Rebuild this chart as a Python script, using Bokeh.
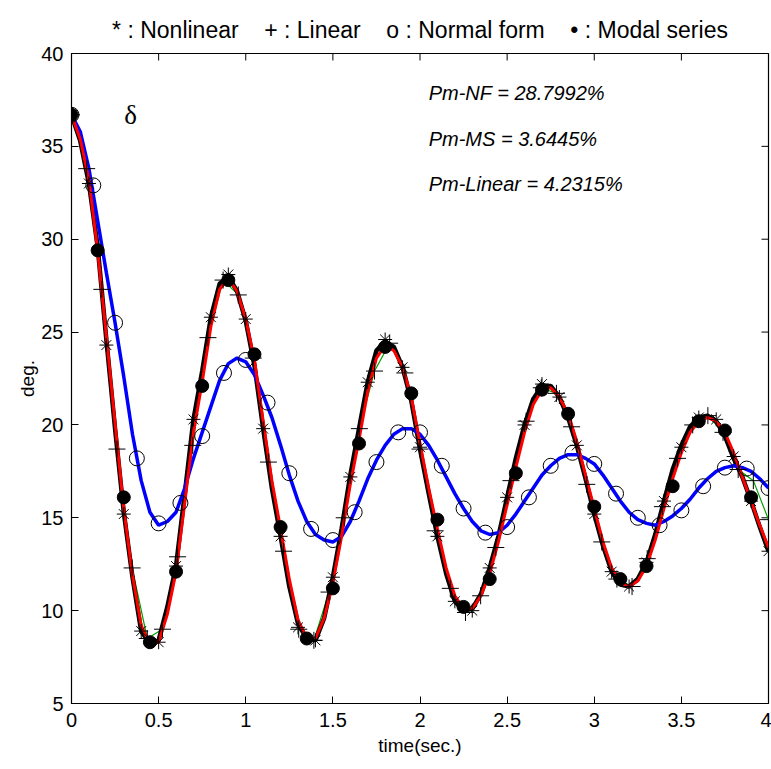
import numpy as np
from bokeh.plotting import figure
from bokeh.embed import file_html
from bokeh.resources import INLINE
from bokeh.models import FixedTicker, PrintfTickFormatter, Range1d
from bokeh.core.properties import value

# ---- data ----
t_line = np.round(np.arange(0, 81) * 0.05, 2)

nonlinear_line = [36.7, 35.3, 33.0, 29.6, 24.6, 19.8, 15.3, 11.8, 8.9, 8.2,
                  8.4, 10.2, 12.4, 16.3, 20.3, 22.9, 25.8, 27.6, 28.0, 27.2,
                  25.6, 23.2, 19.8, 16.6, 14.0, 11.3, 9.3, 8.5, 8.4, 9.6,
                  11.8, 14.4, 17.3, 19.8, 22.3, 24.0, 24.5, 24.2, 23.1, 21.3,
                  18.7, 16.3, 14.0, 12.0, 10.5, 10.0, 10.1, 10.9, 12.3, 14.0,
                  16.1, 18.2, 20.0, 21.4, 22.1, 22.1, 21.5, 20.4, 18.9, 17.1,
                  15.2, 13.5, 12.1, 11.4, 11.3, 11.7, 12.6, 14.1, 15.9, 17.6,
                  18.9, 19.9, 20.4, 20.5, 20.2, 19.4, 18.2, 17.2, 15.9, 14.5,
                  13.2]

modal_line = [36.7, 35.4, 33.2, 29.4, 24.8, 20.1, 15.5, 11.9, 9.2, 8.2,
              8.3, 9.8, 12.1, 15.8, 19.6, 22.3, 25.3, 27.3, 27.9, 27.2,
              25.7, 23.5, 20.2, 17.0, 14.4, 11.7, 9.5, 8.5, 8.5, 9.6,
              11.5, 14.0, 16.8, 19.2, 21.8, 23.6, 24.3, 24.0, 23.1, 21.5,
              19.0, 16.6, 14.4, 12.3, 10.8, 10.1, 10.1, 10.8, 12.0, 13.7,
              15.7, 17.7, 19.6, 21.1, 21.9, 22.0, 21.5, 20.6, 19.1, 17.3,
              15.5, 13.7, 12.3, 11.5, 11.3, 11.6, 12.4, 13.8, 15.5, 17.1,
              18.5, 19.6, 20.2, 20.4, 20.2, 19.6, 18.5, 17.2, 15.9, 14.6,
              13.4]

normal_form_line = [36.7, 35.8, 33.8, 31.0, 28.2, 25.5, 22.6, 19.5, 17.0, 15.3,
                    14.6, 14.8, 15.3, 16.6, 18.2, 19.6, 21.0, 22.4, 23.3, 23.6,
                    23.4, 22.7, 21.6, 20.4, 18.9, 17.3, 15.9, 14.8, 14.1, 13.8,
                    13.7, 14.0, 14.8, 15.9, 17.1, 18.1, 18.9, 19.5, 19.8, 19.8,
                    19.5, 18.9, 18.1, 17.2, 16.3, 15.5, 14.8, 14.3, 14.1, 14.2,
                    14.6, 15.2, 15.9, 16.6, 17.3, 17.8, 18.2, 18.4, 18.4, 18.2,
                    17.9, 17.3, 16.6, 15.9, 15.3, 14.9, 14.7, 14.6, 14.8, 15.1,
                    15.5, 16.0, 16.6, 17.1, 17.5, 17.7, 17.8, 17.7, 17.5, 17.1,
                    16.6]

# '*' markers (nonlinear)
t_nl = np.round(np.arange(0, 41) * 0.1, 3)
y_nl = [36.7, 33.0, 24.3, 15.2, 8.9, 8.3, 12.4, 20.3, 25.8, 28.1,
        25.7, 19.8, 14.0, 9.1, 8.4, 11.8, 17.2, 22.3, 24.6, 23.1,
        18.8, 14.0, 10.5, 10.0, 12.3, 16.1, 20.0, 22.2, 21.5, 18.9,
        15.2, 12.1, 11.3, 12.6, 15.9, 18.8, 20.4, 20.3, 18.3, 15.9,
        13.2]

# '+' markers (linear)
t_lin = np.round(np.arange(0, 47) * 4.0 / 46, 3)
y_lin = [36.7, 33.8, 27.3, 18.7, 12.3, 8.5, 9.0, 12.9, 18.9, 24.7,
         27.8, 27.0, 23.6, 18.0, 13.2, 9.0, 8.4, 11.0, 15.0, 19.8,
         22.9, 24.4, 22.8, 18.7, 14.3, 11.2, 9.9, 10.8, 13.4, 17.0,
         20.2, 22.0, 21.7, 19.9, 16.8, 13.7, 11.7, 11.3, 12.8, 15.6,
         18.2, 20.0, 20.5, 19.6, 17.6, 17.0, 14.9]

# 'o' markers (normal form)
t_nf = np.round(np.arange(0, 33) * 0.125, 3)
y_nf = [36.7, 32.9, 25.5, 18.2, 14.7, 15.8, 19.4, 22.8, 23.5, 21.2,
        17.4, 14.4, 13.8, 15.3, 18.0, 19.6, 19.6, 17.8, 15.5, 14.2,
        14.5, 16.1, 17.8, 18.5, 17.9, 16.3, 15.0, 14.6, 15.4, 16.7,
        17.7, 17.65, 16.6]

# filled dots (modal series)
t_ms = np.round(np.arange(0, 27) * 0.15, 3)
y_ms = [36.7, 29.4, 16.1, 8.3, 12.1, 22.1, 27.8, 23.8, 14.5, 8.5,
        11.2, 19.0, 24.2, 21.7, 14.9, 10.2, 11.7, 17.4, 21.9, 20.6,
        15.6, 11.7, 12.4, 16.7, 20.2, 19.7, 16.1]

x_ticks = [0, 0.5, 1, 1.5, 2, 2.5, 3, 3.5, 4]
y_ticks = [5, 10, 15, 20, 25, 30, 35, 40]

GAP = "\u00a0" * 4
legend_title = ("* : Nonlinear" + GAP + "+ : Linear" + GAP + "o : Normal form"
                + GAP + "\u2022 : Modal series")
pm_texts = ["Pm-NF = 28.7992%", "Pm-MS = 3.6445%", "Pm-Linear = 4.2315%"]

FONT = "Liberation Sans"
X0, X1, Y0, Y1 = 0, 4, 5, 40
FRAME_W, FRAME_H = 697, 650
TICK_PX = 7

p = figure(width=771, height=769, output_backend="svg", toolbar_location=None,
           x_range=Range1d(X0, X1), y_range=Range1d(Y0, Y1),
           min_border_left=71, min_border_right=3, min_border_top=53,
           min_border_bottom=66, title=legend_title)
p.title.align = "center"
p.title.text_font = FONT
p.title.text_font_size = "23px"
p.title.text_font_style = "normal"
p.title.text_color = "black"
p.title.standoff = 22

p.xgrid.visible = False
p.ygrid.visible = False
p.outline_line_color = "black"
p.outline_line_width = 1.2
p.background_fill_color = "white"
p.border_fill_color = "white"

for ax, ticks in ((p.xaxis[0], x_ticks), (p.yaxis[0], y_ticks)):
    ax.ticker = FixedTicker(ticks=ticks)
    ax.formatter = PrintfTickFormatter(format="%g")
    ax.major_tick_in = TICK_PX
    ax.major_tick_out = 0
    ax.minor_tick_line_color = None
    ax.axis_line_color = "black"
    ax.major_tick_line_color = "black"
    ax.major_label_text_font = FONT
    ax.major_label_text_font_size = "20px"
    ax.major_label_text_color = "black"
    ax.axis_label_text_font = FONT
    ax.axis_label_text_font_size = "19px"
    ax.axis_label_text_font_style = "normal"
    ax.axis_label_text_color = "black"

p.xaxis[0].axis_label = "time(sec.)"
p.xaxis[0].major_label_standoff = 9
p.xaxis[0].axis_label_standoff = 5
p.yaxis[0].axis_label = "deg."
p.yaxis[0].major_label_standoff = 8
p.yaxis[0].axis_label_standoff = 0

# inward ticks on the top and right edges of the box (MATLAB style)
dy = TICK_PX * (Y1 - Y0) / FRAME_H
dx = TICK_PX * (X1 - X0) / FRAME_W
xt = np.array(x_ticks[1:-1], dtype=float)
yt = np.array(y_ticks[1:-1], dtype=float)
p.segment(x0=xt, y0=np.full(len(xt), Y1), x1=xt, y1=np.full(len(xt), Y1 - dy),
          line_color="black", line_width=1)
p.segment(x0=np.full(len(yt), X1), y0=yt, x1=np.full(len(yt), X1 - dx), y1=yt,
          line_color="black", line_width=1)

# lines
p.line(t_lin, y_lin, line_color="#00a000", line_width=1.2)
p.line(t_line, nonlinear_line, line_color="black", line_width=4.5)
p.line(t_line, normal_form_line, line_color="#0000ff", line_width=3.5)
p.line(t_line, modal_line, line_color="#ff0000", line_width=3)

# markers
p.scatter(t_nl, y_nl, marker="asterisk", size=14, line_color="black", line_width=1)
p.scatter(t_lin, y_lin, marker="cross", size=17, line_color="black", line_width=1)
p.scatter(t_nf, y_nf, marker="circle", size=15, line_color="black", fill_color=None, line_width=1)
p.scatter(t_ms, y_ms, marker="circle", size=13, line_color="black", fill_color="black")

# annotations
p.text(x=[0.339], y=[36.7], text=["\u03b4"], text_font=value("Liberation Serif"),
       text_font_size="27px", text_align="center", text_baseline="middle", text_color="black")
p.text(x=[2.05, 2.05, 2.05], y=[37.9, 35.4, 33.0], text=pm_texts,
       text_font=value(FONT), text_font_style="italic", text_font_size="20px",
       text_align="left", text_baseline="middle", text_color="black")

open("out.html", "w").write(file_html(p, INLINE))
